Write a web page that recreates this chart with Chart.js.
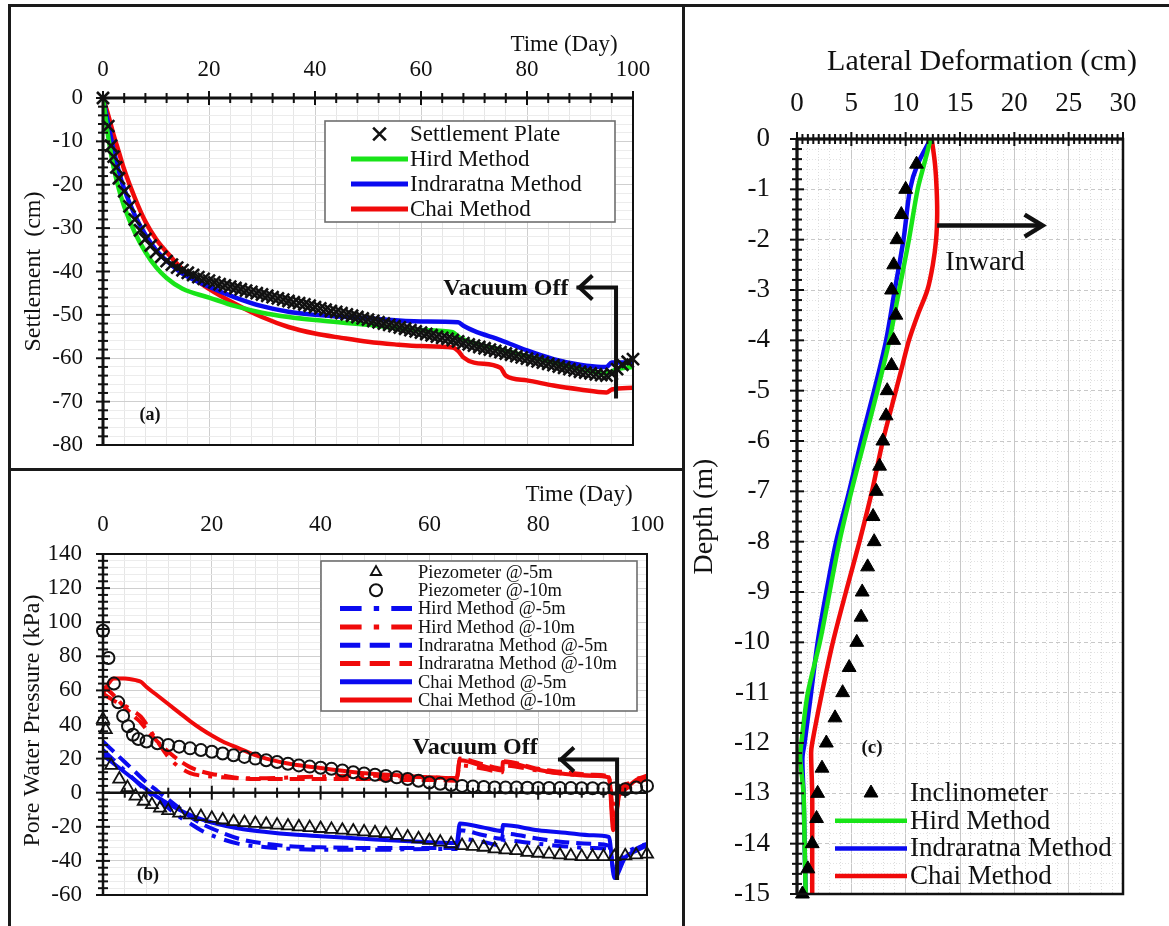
<!DOCTYPE html>
<html>
<head>
<meta charset="utf-8">
<title>Settlement, pore pressure and lateral deformation</title>
<script src="https://cdn.jsdelivr.net/npm/chart.js"></script>
<style>
  html, body { margin: 0; padding: 0; background: #fff; }
  body { width: 1169px; height: 926px; position: relative; overflow: hidden; }
  .panel { position: absolute; }
  #panelA { left: 0; top: 0; width: 683px; height: 469px; }
  #panelB { left: 0; top: 469px; width: 683px; height: 457px; }
  #panelC { left: 683px; top: 0; width: 486px; height: 926px; }
  .rule { position: absolute; background: #1a1a1a; }
</style>
</head>
<body>
<div class="panel" id="panelA"><canvas id="chartA"></canvas></div>
<div class="panel" id="panelB"><canvas id="chartB"></canvas></div>
<div class="panel" id="panelC"><canvas id="chartC"></canvas></div>
<div class="rule" style="left:8px;top:4px;width:1161px;height:3px"></div>
<div class="rule" style="left:8px;top:4px;width:3px;height:922px"></div>
<div class="rule" style="left:682px;top:4px;width:3px;height:922px"></div>
<div class="rule" style="left:8px;top:468px;width:676px;height:3px"></div>
<script>
// ---- (a) settlement ----
const plateDays = [0, 1, 1.5, 2, 2.5, 3,
  4, 5, 6, 7, 8, 9, 10, 11, 12, 13,
  14, 15, 16, 17, 18, 19, 20, 21, 22, 23,
  24, 25, 26, 27, 28, 29, 30, 31, 32, 33,
  34, 35, 36, 37, 38, 39, 40, 41, 42, 43,
  44, 45, 46, 47, 48, 49, 50, 51, 52, 53,
  54, 55, 56, 57, 58, 59, 60, 61, 62, 63,
  64, 65, 66, 67, 68, 69, 70, 71, 72, 73,
  74, 75, 76, 77, 78, 79, 80, 81, 82, 83,
  84, 85, 86, 87, 88, 89, 90, 91, 92, 93,
  94, 95, 96, 97, 98, 99, 100];
const plateSettlement = [0, -6.5, -11, -13.5, -16, -18.5,
  -21.5, -25, -28, -30.5, -32.5, -34, -35.5, -36.6, -37.6, -38.4,
  -39.1, -39.7, -40.3, -40.8, -41.3, -41.7, -42.1, -42.5, -42.9, -43.2,
  -43.5, -43.8, -44.1, -44.4, -44.7, -45, -45.3, -45.6, -45.9, -46.2,
  -46.5, -46.8, -47.1, -47.3, -47.6, -47.9, -48.2, -48.5, -48.8, -49.1,
  -49.3, -49.6, -49.9, -50.2, -50.5, -50.8, -51.1, -51.4, -51.7, -52,
  -52.3, -52.6, -52.9, -53.2, -53.5, -53.8, -54.1, -54.4, -54.7, -55,
  -55.3, -55.5, -55.8, -56.1, -56.5, -56.8, -57.1, -57.4, -57.7, -58,
  -58.3, -58.6, -58.9, -59.2, -59.5, -59.8, -60.1, -60.4, -60.7, -61,
  -61.3, -61.6, -61.9, -62.2, -62.5, -62.8, -63.1, -63.3, -63.5, -63.7,
  -63.9, -64, -63.6, -62.5, -61.5, -60.8, -60.2];

const hirdDaysA = [0, 1, 2, 3, 4, 6, 8, 10, 12, 15, 20, 25, 30, 35, 40, 50, 60, 66, 67, 70, 75, 80, 85, 90, 95, 96, 97, 100];
const hirdSettlement = [0, -9, -16, -21, -25, -31, -35.5, -39, -41.5, -44, -46, -48, -49.5, -50.5, -51.2, -52.3, -53.5, -54, -55, -56.5, -58, -59.5, -61, -62.5, -63.5, -63, -62.5, -62];

const indraDaysA = [0, 1, 2, 3, 4, 6, 8, 10, 12, 15, 20, 25, 30, 35, 40, 50, 60, 67, 68, 70, 75, 80, 85, 90, 94, 95, 96, 97, 100];
const indraSettlement = [0, -6, -12, -17, -21, -27, -31.5, -35, -37.5, -40.5, -43.5, -46, -48, -49.3, -50, -50.8, -51.5, -51.7, -52.5, -53.7, -55.8, -58.2, -60.2, -61.5, -62, -62, -61, -61, -61];

const chaiDaysA = [0, 1, 2, 3, 4, 6, 8, 10, 12, 15, 20, 25, 30, 35, 40, 45, 50, 55, 60, 66, 67, 68, 70, 75, 76, 80, 85, 90, 95, 96, 100];
const chaiSettlement = [0, -4, -8.5, -12.5, -16.5, -23, -28.5, -32.5, -35.5, -39.5, -44, -47.5, -50.5, -52.8, -54.3, -55.3, -56.2, -56.8, -57.2, -57.5, -58.3, -59.8, -61, -62.2, -64, -65.1, -66.3, -67.2, -67.9, -67.2, -66.8];

// ---- (b) pore water pressure ----
const piezo5Days = [0, 0.5, 1.5, 3, 4.5, 6, 7.5, 9, 10.5,
  12, 14, 16, 18, 20, 22, 24, 26, 28, 30,
  32, 34, 36, 38, 40, 42, 44, 46, 48, 50,
  52, 54, 56, 58, 60, 62, 64, 66, 68, 70,
  72, 74, 76, 78, 80, 82, 84, 86, 88, 90,
  92, 94, 96, 98, 100];
const piezo5Pressure = [43, 37, 16, 8, 3, -2, -5, -7, -9,
  -10.5, -12, -13, -14, -15, -16, -17, -17.5, -18, -18.5,
  -19, -19.5, -20, -20.5, -21, -21.5, -22, -22.5, -23, -23.5,
  -24, -25, -26, -27, -28, -29, -30, -31, -31.5, -32,
  -33, -33.5, -34, -35, -35.5, -36, -36.5, -37, -37.5, -37.5,
  -37.5, -37.5, -37, -36.5, -36];

const piezo10Days = [0, 1, 2, 2.8, 3.7, 4.6, 5.5, 6.5,
  8, 10, 12, 14, 16, 18, 20, 22, 24, 26,
  28, 30, 32, 34, 36, 38, 40, 42, 44, 46,
  48, 50, 52, 54, 56, 58, 60, 62, 64, 66,
  68, 70, 72, 74, 76, 78, 80, 82, 84, 86,
  88, 90, 92, 94, 96, 98, 100];
const piezo10Pressure = [95, 79, 64, 53, 45, 39, 34, 31.5,
  30, 29, 28, 27, 26, 25, 24, 23, 22, 21,
  20, 19, 18, 17, 16, 15.3, 14.6, 14, 13, 12,
  11.3, 10.5, 9.8, 9, 8, 7, 6, 5.2, 4.5, 4,
  3.6, 3.3, 3.1, 3, 3, 2.9, 2.8, 2.8, 2.7, 2.7,
  2.6, 2.6, 2.5, 2.5, 2, 3, 4];

const modelDays5 = [0, 2, 4, 6, 8, 10, 12, 14, 16, 18, 20, 25, 30, 35, 40, 50, 60, 65, 65.6, 70, 73.4, 73.5, 80, 85, 90, 93, 94, 96, 98, 100];
const hird5Pressure = [25, 19, 13, 7, 1, -4, -9, -14, -18, -22, -25, -30, -32, -33, -33.5, -33.5, -33, -33, -27, -29, -31, -28, -30, -31.5, -32.5, -33, -44, -36, -32, -30];
const indra5Pressure = [30, 24, 18, 12, 6, 1, -4, -9, -14, -18, -21, -27, -30, -31.5, -32, -32.5, -32.5, -32.5, -22, -25, -27, -24, -27, -29, -30, -31, -47, -38, -33, -30];
const chai5Pressure = [22, 17, 12, 7, 2, -2.5, -6.5, -10, -13, -15.5, -17.5, -21, -23, -24.5, -25.5, -27.5, -29, -29.5, -18, -20.5, -22.5, -19, -22, -23.5, -25, -26, -50, -38, -34, -31];

const modelDays10 = [0, 1, 2, 4, 6, 7, 8, 10, 12, 14, 16, 18, 20, 22, 25, 28, 30, 35, 40, 45, 50, 55, 60, 65, 65.6, 70, 73.4, 73.5, 80, 85, 90, 93, 93.8, 95, 97, 98, 100];
const hird10Pressure = [58, 56, 54, 51, 47, 44.5, 40, 30, 21, 15, 11.5, 10, 9.5, 9, 8.5, 8.5, 8.5, 9, 9.5, 10, 10, 9.5, 9, 8.5, 16, 14, 12, 16, 13, 11, 10, 9, -10, 2, 6, 8, 9];
const indra10Pressure = [62, 60, 57, 50, 44, 41, 37, 30, 24, 19, 15, 12.5, 11, 10, 8.5, 8, 8, 8, 8, 8, 8, 7.5, 7.5, 7, 20, 16.5, 14, 18.5, 14, 12, 10.5, 9.5, -16, -2, 4, 6, 8];
const chai10Pressure = [58, 64, 67, 67, 66, 65, 62, 57, 52, 47, 42, 37.5, 33.5, 30, 26, 22, 20, 16.5, 14.5, 12.5, 11, 10, 9, 8.5, 19, 15.5, 13, 18, 13.5, 11, 10, 9, -22, 0, 5, 7.5, 10];

// ---- (c) lateral deformation ----
const inclinoDepth = [-0.5, -1, -1.5, -2, -2.5, -3, -3.5, -4, -4.5, -5, -5.5, -6, -6.5, -7, -7.5, -8, -8.5, -9, -9.5, -10, -10.5, -11, -11.5, -12, -12.5, -13, -13.5, -14, -14.5, -15];
const inclinoDeform = [11.0, 10.0, 9.6, 9.2, 8.9, 8.7, 9.1, 8.9, 8.7, 8.3, 8.2, 7.9, 7.6, 7.3, 7.0, 7.1, 6.5, 6.0, 5.9, 5.5, 4.8, 4.2, 3.5, 2.7, 2.3, 1.9, 1.8, 1.4, 1.0, 0.5];

const modelDepthC = [0, -0.5, -1, -2, -3, -4, -5, -6, -7, -8, -9, -10, -11, -12, -12.3, -13, -14, -15];
const hirdDeform = [12.3, 11.7, 11.1, 10.3, 9.4, 8.5, 7.4, 6.2, 5.0, 3.9, 3.0, 2.1, 1.0, 0.4, 0.3, 0.6, 0.7, 0.8];
const indraDeform = [12.3, 11.1, 10.4, 9.8, 9.0, 8.2, 7.1, 5.9, 4.8, 3.6, 2.7, 1.9, 1.3, 0.7, 0.5, 0.6, 0.7, 0.8];

const chaiDepthC = [0, -0.5, -1, -1.5, -2, -2.5, -3, -3.5, -4, -4.5, -5, -6, -7, -8, -9, -10, -11, -12, -12.2, -13, -14, -15];
const chaiDeform = [12.4, 12.7, 12.85, 12.9, 12.8, 12.5, 12.0, 11.1, 10.3, 9.7, 9.1, 7.9, 6.9, 5.75, 4.5, 3.3, 2.3, 1.4, 1.3, 1.4, 1.4, 1.4];

// ---- shared look ----
const serif = "'Liberation Serif', 'Times New Roman', serif";
const GREEN = '#18e418';
const BLUE = '#0a0af0';
const RED = '#f00a0a';
const INK = '#111';

Chart.defaults.font.family = serif;
Chart.defaults.color = INK;
Chart.defaults.animation = false;
Chart.defaults.plugins.legend.display = false;
Chart.defaults.plugins.tooltip.enabled = false;

const pts = (xs, ys) => xs.map((x, i) => ({ x: x, y: ys[i] }));
const near = (v, m) => Math.abs(v / m - Math.round(v / m)) < 1e-6;

function stepTicks(step) {
    return function (scale) {
        const n = Math.round((scale.max - scale.min) / step);
        const out = [];
        for (let i = 0; i <= n; i++) out.push({ value: +(scale.min + i * step).toFixed(4) });
        scale.ticks = out;
    };
}

// linear axis with labels only on the major steps
function axisScale(o) {
    const horizontal = o.position === 'top';
    return {
        type: 'linear',
        position: o.position,
        min: o.min,
        max: o.max,
        afterBuildTicks: stepTicks(o.step),
        afterFit(scale) {
            if (horizontal) {
                scale.height = o.size;
                scale.paddingLeft = 0;
                scale.paddingRight = 0;
            } else {
                scale.width = o.size;
                scale.paddingTop = 0;
                scale.paddingBottom = 0;
            }
        },
        ticks: {
            autoSkip: false,
            maxRotation: 0,
            padding: o.pad,
            font: { size: o.fontSize },
            color: INK,
            callback: (v) => near(v, o.major) ? String(Math.round(v)) : ''
        },
        grid: {
            drawTicks: false,
            lineWidth: 1,
            color: (c) => c.tick && near(c.tick.value, o.major) ? o.gridMajor : o.gridMinor
        },
        border: {
            display: false,
            dash: (c) => c.tick && near(c.tick.value, o.major) ? (o.dashMajor || []) : (o.dashMinor || [])
        }
    };
}

function line(ctx, x1, y1, x2, y2) {
    ctx.beginPath();
    ctx.moveTo(x1, y1);
    ctx.lineTo(x2, y2);
    ctx.stroke();
}

function marker(ctx, style, x, y, r, fill, stroke, w) {
    ctx.beginPath();
    if (style === 'crossRot') {
        const d = r * Math.SQRT1_2;
        ctx.moveTo(x - d, y - d); ctx.lineTo(x + d, y + d);
        ctx.moveTo(x + d, y - d); ctx.lineTo(x - d, y + d);
    } else if (style === 'triangle') {
        ctx.moveTo(x, y - r);
        ctx.lineTo(x + r * 0.866, y + r / 2);
        ctx.lineTo(x - r * 0.866, y + r / 2);
        ctx.closePath();
    } else {
        ctx.arc(x, y, r, 0, Math.PI * 2);
    }
    if (fill && fill !== 'transparent') { ctx.fillStyle = fill; ctx.fill(); }
    ctx.setLineDash([]);
    ctx.strokeStyle = stroke;
    ctx.lineWidth = w;
    ctx.stroke();
}

// frame, axis lines through given values, crossing tick marks
function axesDeco(o) {
    return {
        id: 'axesDeco',
        afterDatasetsDraw(chart) {
            const { ctx, chartArea: a, scales: { x, y } } = chart;
            ctx.save();
            ctx.strokeStyle = INK;
            ctx.setLineDash([]);
            ctx.lineWidth = o.frame;
            ctx.strokeRect(a.left, a.top, a.right - a.left, a.bottom - a.top);
            const ay = y.getPixelForValue(o.xAt);
            const ax = x.getPixelForValue(o.yAt);
            ctx.lineWidth = o.axis;
            line(ctx, a.left, ay, a.right, ay);
            line(ctx, ax, a.top, ax, a.bottom);
            ctx.lineWidth = o.tickWidth;
            let n = Math.round((x.max - x.min) / o.xStep);
            for (let i = 0; i <= n; i++) {
                const v = x.min + i * o.xStep;
                const px = x.getPixelForValue(v);
                const t = near(v, o.xMajor) ? o.tick + 2 : o.tick;
                line(ctx, px, ay - t, px, ay + t);
            }
            n = Math.round((y.max - y.min) / o.yStep);
            for (let i = 0; i <= n; i++) {
                const v = y.min + i * o.yStep;
                const py = y.getPixelForValue(v);
                const t = near(v, o.yMajor) ? o.tick + 2 : o.tick;
                line(ctx, ax - t, py, ax + t, py);
            }
            ctx.restore();
        }
    };
}

// legend drawn inside the plot from the datasets themselves
function insideLegend(o) {
    return {
        id: 'insideLegend',
        afterDraw(chart) {
            const { ctx, chartArea: a } = chart;
            ctx.save();
            const bx = a.left + o.x;
            const by = a.top + o.y;
            if (o.box) {
                ctx.fillStyle = '#fff';
                ctx.fillRect(bx, by, o.w, o.h);
                ctx.strokeStyle = '#6e6e6e';
                ctx.lineWidth = 1.6;
                ctx.strokeRect(bx, by, o.w, o.h);
            }
            chart.data.datasets.forEach((ds, i) => {
                const ry = by + o.first + i * o.rowH;
                const x0 = bx + o.sampleX;
                const x1 = x0 + o.sampleW;
                if (ds.showLine) {
                    ctx.strokeStyle = ds.borderColor;
                    ctx.lineWidth = o.lineW;
                    ctx.setLineDash(ds.borderDash ? ds.borderDash.map((d) => d * o.dashScale) : []);
                    line(ctx, x0, ry, x1, ry);
                    ctx.setLineDash([]);
                } else {
                    marker(ctx, ds.pointStyle, (x0 + x1) / 2, ry, o.markR,
                        ds.backgroundColor, ds.borderColor, ds.borderWidth);
                }
                ctx.fillStyle = INK;
                ctx.font = o.fontSize + 'px ' + serif;
                ctx.textAlign = 'left';
                ctx.textBaseline = 'middle';
                ctx.fillText(ds.label, x1 + o.gap, ry + 1);
            });
            ctx.restore();
        }
    };
}

function vText(ctx, str, x, y, font) {
    ctx.save();
    ctx.translate(x, y);
    ctx.rotate(-Math.PI / 2);
    ctx.font = font;
    ctx.textAlign = 'center';
    ctx.textBaseline = 'middle';
    ctx.fillText(str, 0, 0);
    ctx.restore();
}

function elbowArrow(ctx, xTop, yTop, yBottom, xTip, w) {
    ctx.strokeStyle = INK;
    ctx.lineWidth = w;
    ctx.lineCap = 'square';
    ctx.beginPath();
    ctx.moveTo(xTop, yBottom);
    ctx.lineTo(xTop, yTop);
    ctx.lineTo(xTip, yTop);
    ctx.stroke();
    ctx.lineCap = 'butt';
    ctx.beginPath();
    ctx.moveTo(xTip + 14, yTop - 12);
    ctx.lineTo(xTip + 1, yTop);
    ctx.lineTo(xTip + 14, yTop + 12);
    ctx.stroke();
}

// ---------------- chart (a) ----------------
new Chart(document.getElementById('chartA'), {
    type: 'scatter',
    data: {
        datasets: [
            { label: 'Settlement Plate', data: pts(plateDays, plateSettlement), showLine: false,
              pointStyle: 'crossRot', pointRadius: 8.5, borderColor: INK, backgroundColor: 'transparent', borderWidth: 2.6, clip: false },
            { label: 'Hird Method', data: pts(hirdDaysA, hirdSettlement), showLine: true,
              borderColor: GREEN, borderWidth: 4.5, pointRadius: 0, cubicInterpolationMode: 'monotone' },
            { label: 'Indraratna Method', data: pts(indraDaysA, indraSettlement), showLine: true,
              borderColor: BLUE, borderWidth: 4.5, pointRadius: 0, cubicInterpolationMode: 'monotone' },
            { label: 'Chai Method', data: pts(chaiDaysA, chaiSettlement), showLine: true,
              borderColor: RED, borderWidth: 4.5, pointRadius: 0, cubicInterpolationMode: 'monotone' }
        ]
    },
    options: {
        responsive: true,
        maintainAspectRatio: false,
        layout: { padding: { left: 13, top: 18, right: 50, bottom: 24 } },
        scales: {
            x: axisScale({ position: 'top', min: 0, max: 100, step: 4, major: 20, size: 80, pad: 14, fontSize: 23,
                           gridMajor: '#cfcfcf', gridMinor: '#e6e6e6' }),
            y: axisScale({ position: 'left', min: -80, max: 0, step: 2, major: 10, size: 90, pad: 20, fontSize: 23,
                           gridMajor: '#cfcfcf', gridMinor: '#ececec' })
        }
    },
    plugins: [
        axesDeco({ frame: 2, axis: 3, tickWidth: 2, tick: 5, xAt: 0, yAt: 0, xStep: 4, xMajor: 20, yStep: 2, yMajor: 10 }),
        insideLegend({ box: true, x: 222, y: 23, w: 290, h: 101, first: 13, rowH: 25, sampleX: 26, sampleW: 57,
                       gap: 2, lineW: 5, markR: 9, dashScale: 1, fontSize: 23 }),
        {
            id: 'notesA',
            afterDraw(chart) {
                const { ctx, chartArea: a, scales: { x, y } } = chart;
                ctx.save();
                ctx.fillStyle = INK;
                ctx.font = '23px ' + serif;
                ctx.textAlign = 'center';
                ctx.textBaseline = 'middle';
                ctx.fillText('Time (Day)', a.right - 69, a.top - 53);
                vText(ctx, 'Settlement  (cm)', a.left - 69, (a.top + a.bottom) / 2, '24px ' + serif);
                ctx.font = 'bold 18px ' + serif;
                ctx.fillText('(a)', a.left + 47, a.bottom - 30);
                // vacuum off marker
                const px = x.getPixelForValue(96.8);
                const top = y.getPixelForValue(-43.7);
                elbowArrow(ctx, px, top, y.getPixelForValue(-68.8), x.getPixelForValue(89.7), 4);
                ctx.font = 'bold 24px ' + serif;
                ctx.textAlign = 'right';
                ctx.fillText('Vacuum Off', x.getPixelForValue(89.7) - 10, top + 1);
                ctx.restore();
            }
        }
    ]
});

// ---------------- chart (b) ----------------
new Chart(document.getElementById('chartB'), {
    type: 'scatter',
    data: {
        datasets: [
            { label: 'Piezometer @-5m', data: pts(piezo5Days, piezo5Pressure), showLine: false,
              pointStyle: 'triangle', pointRadius: 7, borderColor: INK, backgroundColor: 'transparent', borderWidth: 1.8, clip: false },
            { label: 'Piezometer @-10m', data: pts(piezo10Days, piezo10Pressure), showLine: false,
              pointStyle: 'circle', pointRadius: 6, borderColor: INK, backgroundColor: 'transparent', borderWidth: 2, clip: false },
            { label: 'Hird Method @-5m', data: pts(modelDays5, hird5Pressure), showLine: true, borderDash: [16, 9, 4, 9],
              borderColor: BLUE, borderWidth: 4, pointRadius: 0, cubicInterpolationMode: 'monotone' },
            { label: 'Hird Method @-10m', data: pts(modelDays10, hird10Pressure), showLine: true, borderDash: [16, 9, 4, 9],
              borderColor: RED, borderWidth: 4, pointRadius: 0, cubicInterpolationMode: 'monotone' },
            { label: 'Indraratna Method @-5m', data: pts(modelDays5, indra5Pressure), showLine: true, borderDash: [15, 7],
              borderColor: BLUE, borderWidth: 4, pointRadius: 0, cubicInterpolationMode: 'monotone' },
            { label: 'Indraratna Method @-10m', data: pts(modelDays10, indra10Pressure), showLine: true, borderDash: [15, 7],
              borderColor: RED, borderWidth: 4, pointRadius: 0, cubicInterpolationMode: 'monotone' },
            { label: 'Chai Method @-5m', data: pts(modelDays5, chai5Pressure), showLine: true,
              borderColor: BLUE, borderWidth: 4, pointRadius: 0, cubicInterpolationMode: 'monotone' },
            { label: 'Chai Method @-10m', data: pts(modelDays10, chai10Pressure), showLine: true,
              borderColor: RED, borderWidth: 4, pointRadius: 0, cubicInterpolationMode: 'monotone' }
        ]
    },
    options: {
        responsive: true,
        maintainAspectRatio: false,
        layout: { padding: { left: 13, top: 5, right: 36, bottom: 31 } },
        scales: {
            x: axisScale({ position: 'top', min: 0, max: 100, step: 4, major: 20, size: 80, pad: 15, fontSize: 23,
                           gridMajor: '#cfcfcf', gridMinor: '#e6e6e6' }),
            y: axisScale({ position: 'left', min: -60, max: 140, step: 4, major: 20, size: 90, pad: 21, fontSize: 23,
                           gridMajor: '#cfcfcf', gridMinor: '#ececec' })
        }
    },
    plugins: [
        axesDeco({ frame: 2, axis: 2.5, tickWidth: 2, tick: 5, xAt: 0, yAt: 0, xStep: 4, xMajor: 20, yStep: 4, yMajor: 20 }),
        insideLegend({ box: true, x: 218, y: 7, w: 316, h: 150, first: 11, rowH: 18.3, sampleX: 19, sampleW: 72,
                       gap: 6, lineW: 5, markR: 6, dashScale: 1.35, fontSize: 18.5 }),
        {
            id: 'notesB',
            afterDraw(chart) {
                const { ctx, chartArea: a, scales: { x, y } } = chart;
                ctx.save();
                ctx.fillStyle = INK;
                ctx.font = '23px ' + serif;
                ctx.textAlign = 'center';
                ctx.textBaseline = 'middle';
                ctx.fillText('Time (Day)', a.right - 68, a.top - 59);
                vText(ctx, 'Pore Water Pressure (kPa)', a.left - 70, (a.top + a.bottom) / 2 - 4, '24px ' + serif);
                ctx.font = 'bold 18px ' + serif;
                ctx.fillText('(b)', a.left + 45, a.bottom - 20);
                const px = x.getPixelForValue(94.5);
                const top = y.getPixelForValue(19.5);
                elbowArrow(ctx, px, top, y.getPixelForValue(-50), x.getPixelForValue(84), 4);
                ctx.font = 'bold 24px ' + serif;
                ctx.textAlign = 'center';
                ctx.fillText('Vacuum Off', x.getPixelForValue(68.4), y.getPixelForValue(26.3));
                ctx.restore();
            }
        }
    ]
});

// ---------------- chart (c) ----------------
new Chart(document.getElementById('chartC'), {
    type: 'scatter',
    data: {
        datasets: [
            { label: 'Inclinometer', data: pts(inclinoDeform, inclinoDepth), showLine: false,
              pointStyle: 'triangle', pointRadius: 8, borderColor: '#000', backgroundColor: '#000', borderWidth: 1, clip: false },
            { label: 'Hird Method', data: pts(hirdDeform, modelDepthC), showLine: true,
              borderColor: GREEN, borderWidth: 4.5, pointRadius: 0, tension: 0.3 },
            { label: 'Indraratna Method', data: pts(indraDeform, modelDepthC), showLine: true,
              borderColor: BLUE, borderWidth: 4.5, pointRadius: 0, tension: 0.3 },
            { label: 'Chai Method', data: pts(chaiDeform, chaiDepthC), showLine: true,
              borderColor: RED, borderWidth: 4.5, pointRadius: 0, tension: 0.3 }
        ]
    },
    options: {
        responsive: true,
        maintainAspectRatio: false,
        layout: { padding: { left: 14, top: 19, right: 46, bottom: 32 } },
        scales: {
            x: axisScale({ position: 'top', min: 0, max: 30, step: 1, major: 5, size: 120, pad: 19, fontSize: 27,
                           gridMajor: '#c8c8c8', gridMinor: '#dcdcdc', dashMinor: [1, 2] }),
            y: axisScale({ position: 'left', min: -15, max: 0, step: 0.2, major: 1, size: 100, pad: 27, fontSize: 27,
                           gridMajor: '#c8c8c8', gridMinor: '#e2e2e2', dashMajor: [4, 3], dashMinor: [1, 2] })
        }
    },
    plugins: [
        axesDeco({ frame: 2.5, axis: 3, tickWidth: 2, tick: 5, xAt: 0, yAt: 0, xStep: 0.5, xMajor: 5, yStep: 0.2, yMajor: 1 }),
        insideLegend({ box: false, x: 0, y: 0, w: 0, h: 0, first: 654, rowH: 27.7, sampleX: 38, sampleW: 72,
                       gap: 3, lineW: 4.5, markR: 8, dashScale: 1, fontSize: 27 }),
        {
            id: 'notesC',
            afterDraw(chart) {
                const { ctx, chartArea: a, scales: { x, y } } = chart;
                ctx.save();
                ctx.fillStyle = INK;
                ctx.font = '30px ' + serif;
                ctx.textAlign = 'center';
                ctx.textBaseline = 'middle';
                ctx.fillText('Lateral Deformation (cm)', a.left + 185, a.top - 77);
                vText(ctx, 'Depth (m)', a.left - 92, (a.top + a.bottom) / 2, '28px ' + serif);
                ctx.font = 'bold 19px ' + serif;
                ctx.fillText('(c)', a.left + 75, a.top + 609);
                // inward arrow
                const yA = y.getPixelForValue(-1.72);
                const x0 = x.getPixelForValue(12.9);
                const x1 = x.getPixelForValue(22.6);
                ctx.strokeStyle = INK;
                ctx.lineWidth = 4.5;
                line(ctx, x0, yA, x1 - 2, yA);
                ctx.beginPath();
                ctx.moveTo(x1 - 18, yA - 11);
                ctx.lineTo(x1, yA);
                ctx.lineTo(x1 - 18, yA + 11);
                ctx.stroke();
                ctx.font = '28px ' + serif;
                ctx.fillText('Inward', x.getPixelForValue(17.3), y.getPixelForValue(-2.46));
                ctx.restore();
            }
        }
    ]
});
</script>
</body>
</html>
